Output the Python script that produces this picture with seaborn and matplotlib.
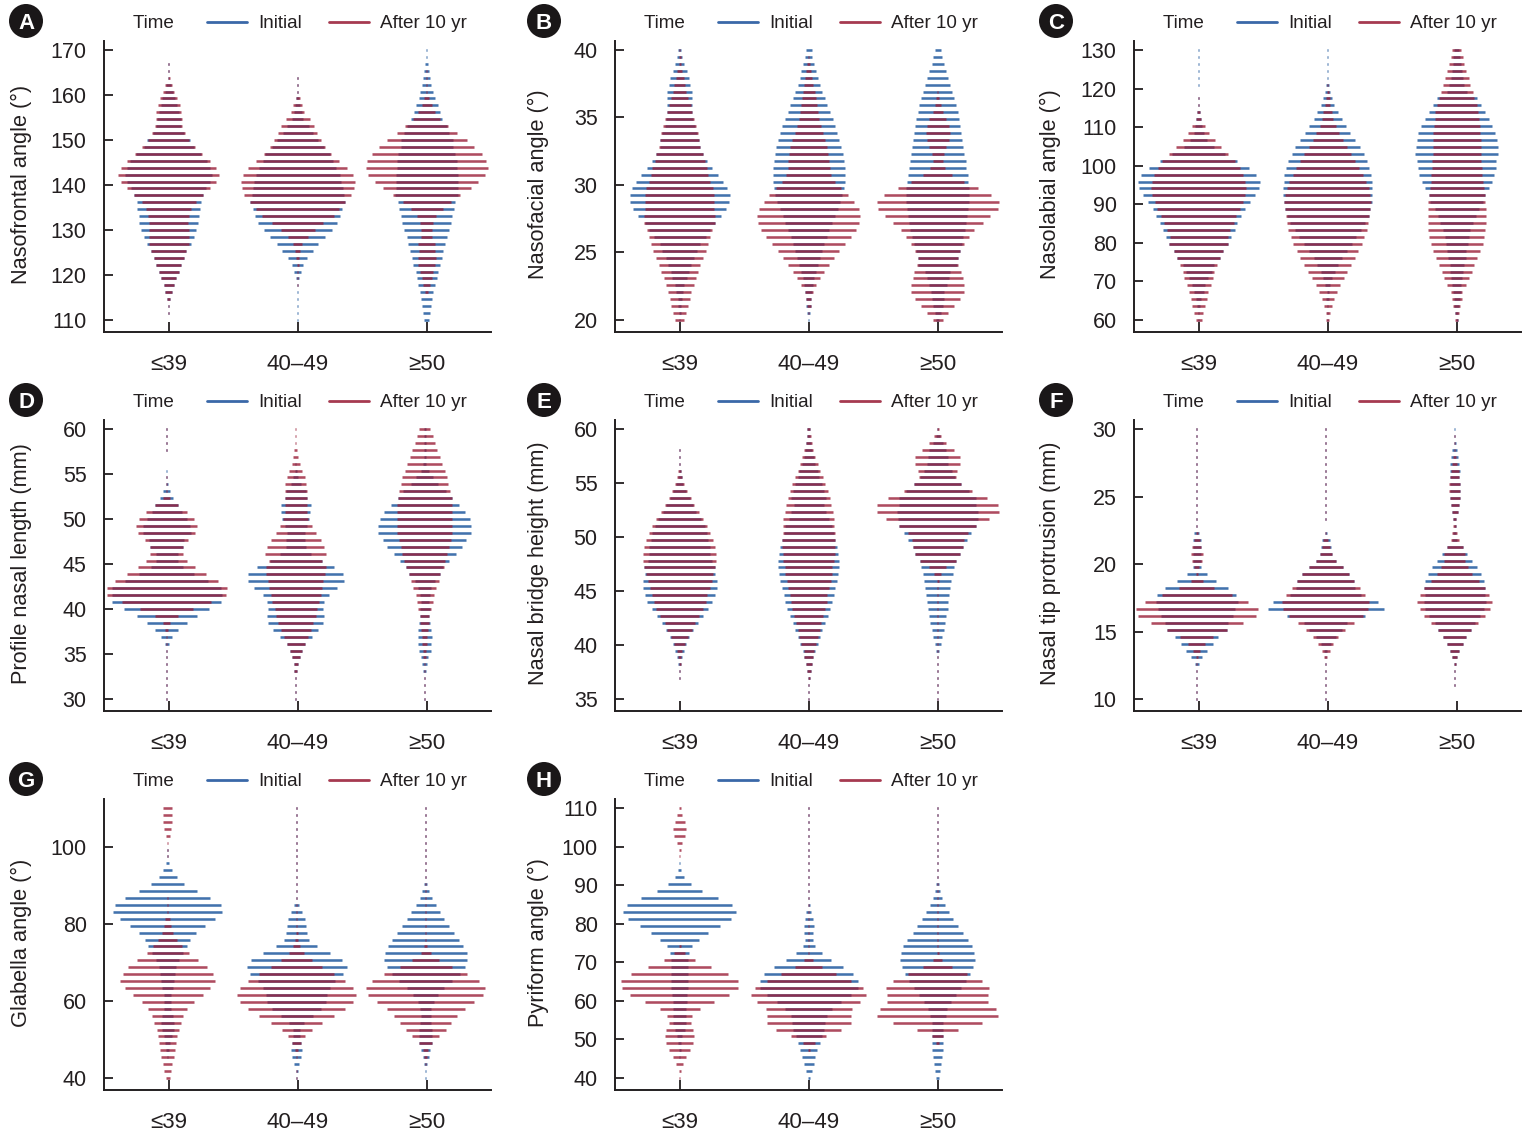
import numpy as np
import pandas as pd
import matplotlib
matplotlib.use("Agg")
import matplotlib.pyplot as plt
from matplotlib.lines import Line2D
from matplotlib.patches import Ellipse
import seaborn as sns

AGE_GROUPS = ["≤39", "40–49", "≥50"]
TIMES = ["Initial", "After 10 yr"]

# Bin densities, 40 bins, top of the axis to bottom. Each group: Initial then After 10 yr.
A_young_initial = [0,0,1,1,2,7,12,20,24,30,36,38,46,65,75,97,115,125,130,124,112,103,96,94,90,89,83,75,66,53,45,38,30,23,15,10,5,2,1,0]
A_young_after = [0,0,1,2,3,10,17,26,33,38,39,41,50,62,79,100,124,143,151,143,124,103,81,68,61,59,60,60,60,52,45,38,30,23,15,10,5,2,1,0]
A_mid_initial = [0,0,0,0,.5,.5,1,4,8,12,17,33,45,62,78,97,105,116,126,131,135,138,143,133,128,118,102,83,62,46,29,17,10,4,2,1,.5,.5,.5,.5]
A_mid_after = [0,0,0,0,.5,.5,1,6,13,19,36,49,58,70,83,100,125,148,165,171,168,160,143,125,108,77,51,30,14,8,4,3,2,1,.5,0,0,0,0,0]
A_old_initial = [1,1,4,7,10,13,19,24,33,39,47,60,68,78,78,85,90,90,93,93,93,95,86,83,77,73,67,60,56,50,45,40,33,30,25,20,17,13,10,7]
A_old_after = [0,0,0,1,1,1,2,8,15,25,40,65,90,120,143,165,178,183,175,155,132,100,72,48,28,20,17,16,25,24,27,25,20,15,10,4,0,0,0,0]

B_young_initial = [4,8,14,21,28,32,37,37,37,37,40,45,52,58,60,70,82,97,115,130,142,150,148,139,124,105,92,78,60,52,42,35,27,23,13,10,6,4,3,2]
B_young_after = [1,3,3,8,12,16,20,25,33,37,43,50,55,59,62,70,75,82,86,92,100,103,103,104,106,106,97,92,86,80,70,62,55,48,42,35,30,25,20,14]
B_mid_initial = [9,11,17,22,27,33,41,48,55,63,72,80,86,92,98,102,105,108,108,108,105,100,95,87,78,70,62,54,47,41,35,28,22,17,13,10,8,7,5,1]
B_mid_after = [0,1,4,7,11,14,18,21,24,27,30,36,42,50,55,58,62,63,68,80,98,118,135,150,155,152,142,128,110,92,76,62,47,34,22,12,8,6,.5,0]
B_old_initial = [9,14,18,25,32,38,44,50,56,60,64,68,70,73,76,79,84,85,90,92,94,95,95,92,88,85,82,77,72,66,60,58,38,33,27,20,18,15,9,5]
B_old_after = [0,0,0,0,0,0,2,4,9,15,25,33,36,33,26,18,15,22,44,80,120,160,183,180,158,135,110,95,80,67,60,62,70,75,80,80,67,50,32,15]

C_young_initial = [.5,.5,.5,.5,.5,.3,0,.5,2,4,7,10,15,25,45,80,115,150,173,183,180,168,153,138,127,116,108,98,88,73,65,47,39,28,20,15,8,5,2,2]
C_young_after = [0,0,0,0,0,0,0,.5,2,4,8,20,32,48,68,88,110,123,133,140,142,140,132,125,113,105,95,87,88,73,65,56,47,43,36,28,24,19,14,9]
C_mid_initial = [.3,.3,.5,1,2,5,8,13,20,32,42,55,68,82,97,108,118,124,130,132,133,134,132,127,123,112,99,86,72,57,42,31,21,13,7,3,5,2,1,1]
C_mid_after = [0,0,0,0,0,1,3,6,8,13,16,24,34,45,57,70,83,95,105,116,123,128,131,127,124,121,118,110,103,92,83,70,58,48,36,27,18,12,6,4]
C_old_initial = [8,10,12,15,18,22,30,60,72,84,96,107,115,120,123,124,119,117,112,105,96,84,80,66,57,49,40,36,33,29,27,21,19,17,14,12,9,7,5,3]
C_old_after = [14,18,23,29,36,40,48,53,60,64,66,69,71,72,72,72,74,75,76,78,81,84,85,87,87,87,86,82,78,71,61,53,45,37,28,17,15,10,6,4]

D_young_initial = [1,1,1,.5,0,0,.5,1,3,11,20,35,45,60,71,72,52,50,33,33,48,82,124,163,165,163,127,90,60,35,17,6,1,.5,.5,.5,.5,.5,.5,.5]
D_young_after = [1,1,1,.5,0,0,0,.3,1,2,10,35,62,83,92,85,65,50,49,61,86,118,154,180,178,134,80,35,10,5,.5,.3,.5,.5,.5,.5,.5,.5,.5,.5]
D_mid_initial = [0,0,0,0,0,1,3,8,15,30,33,45,43,40,33,27,28,30,46,78,115,143,144,124,99,85,83,86,82,67,48,27,18,12,6,4,1,.5,.5,.3]
D_mid_after = [.5,.5,1,5,7,12,20,27,32,33,33,33,33,38,48,60,75,85,91,80,90,88,83,80,75,70,63,60,52,45,36,27,18,12,6,4,1,.5,.5,.3]
D_old_initial = [3,3,3,3,3,4,12,25,40,65,81,102,122,135,141,139,125,112,93,74,55,47,30,20,15,12,15,14,16,20,21,20,18,11,7,4,2,.5,.3,.3]
D_old_after = [17,24,30,38,45,53,60,67,70,77,81,82,82,82,82,82,78,72,67,62,57,47,42,35,27,24,19,14,13,10,8,7,5,4,2,1,.5,.3,.3,.3]

E_young_initial = [0,0,0,.3,.5,1.5,3,6,11,20,30,40,50,65,75,82,86,91,91,96,106,105,111,111,105,97,84,69,54,40,29,20,13,7,4,.5,.3,0,0,0]
E_young_after = [0,0,0,.3,.5,1.5,3.5,7,13,22,33,44,57,71,82,92,100,106,110,110,106,100,96,90,83,78,71,58,45,37,25,17,8,5,3,.3,.2,0,0,0]
E_mid_initial = [4,5,8,11,15,20,28,32,40,47,52,45,53,60,70,75,80,85,89,91,91,88,85,80,75,70,65,57,48,40,33,27,18,13,9,6,3,2,1.5,.5]
E_mid_after = [4,6,9,13,20,27,33,42,49,57,63,68,72,76,77,78,80,80,78,76,71,70,66,62,56,54,50,44,38,33,28,22,15,13,9,6,3,2,1.5,.5]
E_old_initial = [2,6,15,25,30,32,42,52,70,95,115,115,122,120,115,100,89,75,68,54,50,45,40,38,35,32,30,26,22,18,14,9,5,2,1,1,.5,.5,.3,.3]
E_old_after = [3,10,25,48,67,67,58,55,70,102,148,182,183,155,115,90,78,75,68,54,25,10,3,1,.3,.3,.3,.3,.3,.3,.3,.3,.3,.3,.3,.3,.5,.5,.5,.3]

F_young_initial = [.5,.5,.5,.5,.5,.5,.5,.5,.5,.5,.5,.5,.5,.5,2,7,12,12,12,12,12,30,58,95,118,123,116,108,95,90,65,48,32,17,6,2,1,.5,.5,.5]
F_young_after = [.7,.7,.7,.7,.7,.7,.7,.7,.7,.3,.7,.7,.5,.3,.5,3,9,13,18,15,8,3,18,52,105,155,183,177,138,90,50,25,10,3,.5,.5,.5,.5,1,1]
F_mid_initial = [.5,.5,.5,.5,.5,.5,.5,.5,.5,.5,.5,.5,.5,.3,0,3,12,15,18,30,51,70,85,88,106,157,174,117,64,50,30,15,5,2,1,.5,.5,.5,.5,.5]
F_mid_after = [.5,.5,.5,.5,.5,.5,.5,.5,.5,.5,.5,.5,.5,.3,0,2,8,12,18,30,51,70,85,102,119,130,128,111,84,58,38,23,12,5,2,.5,.5,.5,.5,.5]
F_old_initial = [.5,1,3,7,11,14,15,14,15,15,15,12,9,4,3,4,8,24,38,53,67,79,88,92,90,93,88,77,60,50,35,24,14,8,3,1,.5,.3,0,0]
F_old_after = [0,.3,.5,2,5,8,12,14,16,17,15,12,9,4,4,8,12,24,32,32,40,52,72,92,103,112,105,92,70,50,35,24,14,8,3,1.5,.5,.3,0,0]

G_young_initial = [0,0,0,0,0,0,.5,.5,4,13,27,50,87,128,159,163,142,112,85,68,58,47,35,25,22,20,17,11,10,10,17,20,18,12,7,4,1,0,0,0]
G_young_after = [13,13,13,10,6,1,1,.5,0,0,0,0,0,1,1,2,7,10,17,28,43,63,92,118,135,142,128,105,78,58,46,40,33,28,25,22,19,14,10,6]
G_mid_initial = [.5,.5,.5,.5,.5,.5,.5,.5,.5,.5,.5,.5,.5,2,8,16,25,29,31,38,62,101,136,150,139,116,100,92,88,73,48,23,10,10,13,16,14,8,3,.5]
G_mid_after = [.5,.5,.5,.5,.5,.5,.5,.5,.5,.5,.5,.5,.5,.5,1,1,1,1,3,5,11,23,47,76,112,146,170,178,170,146,112,76,45,25,13,5,1,0,.3,.3]
G_old_initial = [.5,.5,.5,.5,.5,.5,.5,.5,.5,.5,1,5,10,18,30,43,55,70,85,100,113,123,124,117,102,80,56,37,24,16,15,16,20,20,20,14,9,5,2,1]
G_old_after = [.5,.5,.5,.5,.5,.5,.5,.5,.5,.5,.5,.5,.5,.5,.5,1,.5,1,1,2,4,15,40,78,124,161,179,172,147,117,94,76,60,41,20,8,4,1,0,0]

H_young_initial = [0,0,0,0,0,0,0,0,.5,4,13,34,68,115,157,170,154,120,85,58,37,28,25,26,26,26,26,23,21,20,20,20,15,8,5,3,1,0,0,0]
H_young_after = [3,8,15,19,16,8,3,.5,0,0,0,0,0,0,0,0,0,0,0,0,3,16,47,95,145,175,174,148,104,60,38,33,41,44,41,31,20,10,3,.5]
H_mid_initial = [.5,.5,.5,.5,.5,.5,.5,.5,.5,.5,.5,.5,.5,1,3,8,12,15,14,12,18,39,68,104,133,147,147,126,96,70,54,49,46,39,33,25,19,15,9,3]
H_mid_after = [.5,.5,.5,.5,.5,.5,.5,.5,.5,.5,.5,.3,.5,.5,1,1,1,1,1,1,1,1,14,41,82,126,162,172,154,129,126,126,97,52,18,3,0,0,0,0]
H_old_initial = [.5,.5,.5,.5,.5,.5,.5,.5,.5,.5,2,5,7,14,22,34,47,61,75,91,103,110,113,107,98,85,70,55,40,28,24,17,17,17,17,16,14,11,7,4]
H_old_after = [.5,.5,.5,.5,.5,.5,.5,.5,.5,.5,.5,.5,.5,.5,.5,1,1,1,1,1,2,3,14,43,88,133,155,151,151,174,181,133,61,17,5,0,0,0,0,0]

PANELS = [
    ("A", "Nasofrontal angle (°)", 110, 170, list(range(110, 171, 10)), A_young_initial, A_young_after, A_mid_initial, A_mid_after, A_old_initial, A_old_after),
    ("B", "Nasofacial angle (°)", 20, 40, list(range(20, 41, 5)), B_young_initial, B_young_after, B_mid_initial, B_mid_after, B_old_initial, B_old_after),
    ("C", "Nasolabial angle (°)", 60, 130, list(range(60, 131, 10)), C_young_initial, C_young_after, C_mid_initial, C_mid_after, C_old_initial, C_old_after),
    ("D", "Profile nasal length (mm)", 30, 60, list(range(30, 61, 5)), D_young_initial, D_young_after, D_mid_initial, D_mid_after, D_old_initial, D_old_after),
    ("E", "Nasal bridge height (mm)", 35, 60, list(range(35, 61, 5)), E_young_initial, E_young_after, E_mid_initial, E_mid_after, E_old_initial, E_old_after),
    ("F", "Nasal tip protrusion (mm)", 10, 30, list(range(10, 31, 5)), F_young_initial, F_young_after, F_mid_initial, F_mid_after, F_old_initial, F_old_after),
    ("G", "Glabella angle (°)", 40, 110, [40, 60, 80, 100], G_young_initial, G_young_after, G_mid_initial, G_mid_after, G_old_initial, G_old_after),
    ("H", "Pyriform angle (°)", 40, 110, list(range(40, 111, 10)), H_young_initial, H_young_after, H_mid_initial, H_mid_after, H_old_initial, H_old_after),
]

W, H = 1526, 1136
DPI = 100
INK = "#231f20"
BLUE = "#4272ad"
RED = "#9a1f38"
RED_ALPHA = 0.8

COL_LEFT = [104, 615, 1134]
ROW_TOP = [41, 420, 799]
AX_W, AX_H = 387, 291
LABEL_X = [32, 549, 1061]
BADGE_X = [26, 544, 1056]
BADGE_Y = [21, 400, 779]
SHIFT_PX = {"D": -2, "F": -2, "G": -1}

sns.set_theme(style="ticks")
plt.rcParams["font.family"] = ["Liberation Sans", "DejaVu Sans"]
plt.rcParams["text.color"] = INK

fig = plt.figure(figsize=(W / DPI, H / DPI), dpi=DPI, facecolor="white")

for idx, (letter, ylabel, lo, hi, ticks, *series) in enumerate(PANELS):
    r, c = divmod(idx, 3)
    ax = fig.add_axes([COL_LEFT[c] / W, 1 - (ROW_TOP[r] + AX_H) / H, AX_W / W, AX_H / H])
    values = np.linspace(hi, lo, 40)
    shift = SHIFT_PX.get(letter, 0) / AX_W * 3
    frames = []
    for g, age in enumerate(AGE_GROUPS):
        for t, time in enumerate(TIMES):
            dens = np.asarray(series[g * 2 + t], float)
            assert len(dens) == 40, (letter, g, t, len(dens))
            keep = dens > 0
            half = dens[keep] / AX_W
            n = keep.sum()
            bins = np.arange(n)
            frames.append(pd.DataFrame({
                "x": np.r_[g + shift - half, g + shift + half],
                "y": np.r_[values[keep], values[keep]],
                "bar": np.r_[bins, bins] + 100 * g,
                "Time": time,
            }))
    df = pd.concat(frames, ignore_index=True)
    sns.lineplot(data=df[df["Time"] == "Initial"], x="x", y="y", units="bar", estimator=None,
                 color=BLUE, linewidth=1.85, solid_capstyle="butt", ax=ax, legend=False)
    sns.lineplot(data=df[df["Time"] == "After 10 yr"], x="x", y="y", units="bar", estimator=None,
                 color=RED, alpha=RED_ALPHA, linewidth=1.85, solid_capstyle="butt", ax=ax, legend=False)

    span = hi - lo
    ax.set_ylim(lo - 12 / 270 * span, hi + 9 / 270 * span)
    ax.set_xlim(-0.5, 2.5)
    ax.set_xticks(range(3))
    ax.set_xticklabels(AGE_GROUPS)
    ax.set_yticks(ticks)
    ax.set_xlabel("")
    ax.set_ylabel(ylabel, fontsize=15.7, color=INK)
    ax.yaxis.set_label_coords((LABEL_X[c] - COL_LEFT[c]) / AX_W, 0.507)
    ax.tick_params(axis="y", direction="in", length=6.5, width=1.3, labelsize=15.5, pad=12.5, colors=INK)
    ax.tick_params(axis="x", direction="in", length=7.5, width=1.3, labelsize=16.1, pad=15.5, colors=INK)
    sns.despine(ax=ax)
    for s in ("left", "bottom"):
        ax.spines[s].set_linewidth(1.4)
        ax.spines[s].set_color(INK)

    handles = [Line2D([], [], color="none"),
               Line2D([], [], color="#3a68a8", lw=2.0),
               Line2D([], [], color="#a63a50", lw=2.0)]
    ax.legend(handles, ["Time "] + TIMES, ncol=3, frameon=False, loc="center left",
              bbox_to_anchor=(-0.056, 1.06), borderpad=0, borderaxespad=0,
              fontsize=13.6, handlelength=2.1, handletextpad=0.6, columnspacing=1.45)

    cy = BADGE_Y[r]
    cx = BADGE_X[c]
    fig.add_artist(Ellipse((cx / W, 1 - cy / H), 34 / W, 34 / H, transform=fig.transFigure,
                           facecolor="#1a1718", edgecolor="none"))
    fig.text(cx / W, 1 - cy / H, letter, color="white", fontsize=16, fontweight="bold",
             ha="center", va="center_baseline")

fig.savefig("out.png", dpi=DPI)
